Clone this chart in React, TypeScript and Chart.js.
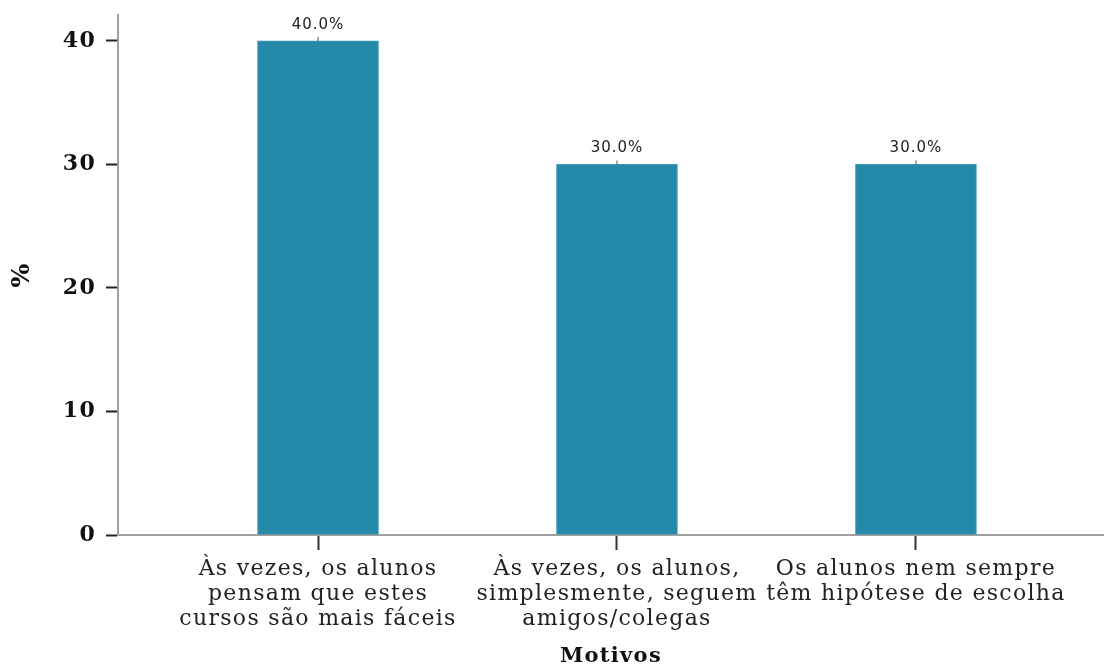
import React, { useEffect, useRef } from "react";
import { Chart, registerables } from "chart.js";

Chart.register(...registerables);

const categories: string[][] = [
  ["Às vezes, os alunos", "pensam que estes", "cursos são mais fáceis"],
  ["Às vezes, os alunos,", "simplesmente, seguem", "amigos/colegas"],
  ["Os alunos nem sempre", "têm hipótese de escolha"],
];
const percentages: number[] = [40, 30, 30];
const yTickValues: number[] = [0, 10, 20, 30, 40];

const spacing = {
  id: "spacing",
  beforeDraw(chart: any) {
    chart.ctx.letterSpacing = "1.3px";
  },
  beforeDatasetsDraw(chart: any) {
    chart.ctx.letterSpacing = "0px";
  },
};

const barLabels = {
  id: "barLabels",
  afterDatasetsDraw(chart: any) {
    const ctx = chart.ctx;
    const meta = chart.getDatasetMeta(0);
    ctx.save();
    meta.data.forEach((el: any, i: number) => {
      const v = percentages[i];
      ctx.strokeStyle = "#555";
      ctx.lineWidth = 1;
      ctx.beginPath();
      ctx.moveTo(el.x, el.y);
      ctx.lineTo(el.x, el.y - 4);
      ctx.stroke();
      ctx.fillStyle = "#222";
      ctx.font = "15px 'DejaVu Sans'";
      ctx.letterSpacing = "1px";
      ctx.textAlign = "center";
      ctx.textBaseline = "middle";
      ctx.fillText(v.toFixed(1) + "%", el.x, el.y - 16);
    });
    ctx.restore();
  },
};

export default function App() {
  const ref = useRef<HTMLCanvasElement>(null);
  useEffect(() => {
    if (!ref.current) return;
    const chart = new Chart(ref.current, {
      type: "bar",
      data: {
        datasets: [
          {
            data: percentages.map((y, i) => ({ x: i, y })),
            backgroundColor: "#2589aa",
            borderColor: "#3f98b6",
            borderWidth: 1,
            barThickness: 121,
          },
        ],
      },
      options: {
        responsive: false,
        animation: false,
        devicePixelRatio: 1,
        layout: { padding: { top: 15, right: 0, left: 0, bottom: 0 } },
        plugins: { legend: { display: false }, tooltip: { enabled: false } },
        scales: {
          x: {
            type: "linear",
            min: -0.669,
            max: 2.629,
            offset: false,
            afterBuildTicks: (scale: any) => {
              scale.ticks = categories.map((_, i) => ({ value: i }));
            },
            afterFit: (scale: any) => {
              scale.height = 129;
              scale.paddingLeft = 0;
              scale.paddingRight = 0;
            },
            grid: {
              display: true,
              offset: false,
              drawOnChartArea: false,
              drawTicks: true,
              tickLength: 15,
              tickColor: "#333",
              tickWidth: 2,
            },
            border: { display: true, color: "#a0a0a0", width: 2 },
            ticks: {
              autoSkip: false,
              maxRotation: 0,
              minRotation: 0,
              padding: 7,
              color: "#222",
              font: { family: "'DejaVu Serif'", size: 22, lineHeight: 1.14 },
              callback: (value: any) => categories[value as number] ?? "",
            },
            title: {
              display: true,
              text: "Motivos",
              color: "#111",
              font: { family: "'DejaVu Serif'", size: 21, weight: "bold", lineHeight: 1 },
              padding: { top: 0, bottom: -3 },
            },
          },
          y: {
            type: "linear",
            min: 0,
            max: 42.1,
            afterBuildTicks: (scale: any) => {
              scale.ticks = yTickValues.map((v) => ({ value: v }));
            },
            afterFit: (scale: any) => {
              scale.width = 118;
              scale.paddingTop = 0;
              scale.paddingBottom = 0;
            },
            grid: {
              display: true,
              drawOnChartArea: false,
              drawTicks: true,
              tickLength: 12,
              tickColor: "#222",
              tickWidth: 2,
            },
            border: { display: true, color: "#a0a0a0", width: 2 },
            ticks: {
              padding: 10,
              color: "#111",
              font: { family: "'DejaVu Serif'", size: 22, weight: "bold" },
            },
            title: {
              display: true,
              text: "%",
              color: "#111",
              font: { family: "'DejaVu Serif'", size: 25, weight: "bold", lineHeight: 1 },
              padding: { top: 10, bottom: 0 },
            },
          },
        },
      },
      plugins: [spacing, barLabels],
    } as any);
    return () => chart.destroy();
  }, []);
  return (
    <div style={{ position: "fixed", left: 0, top: 0, width: 1104, height: 664, background: "#fff" }}>
      <canvas ref={ref} width={1104} height={664} />
    </div>
  );
}
